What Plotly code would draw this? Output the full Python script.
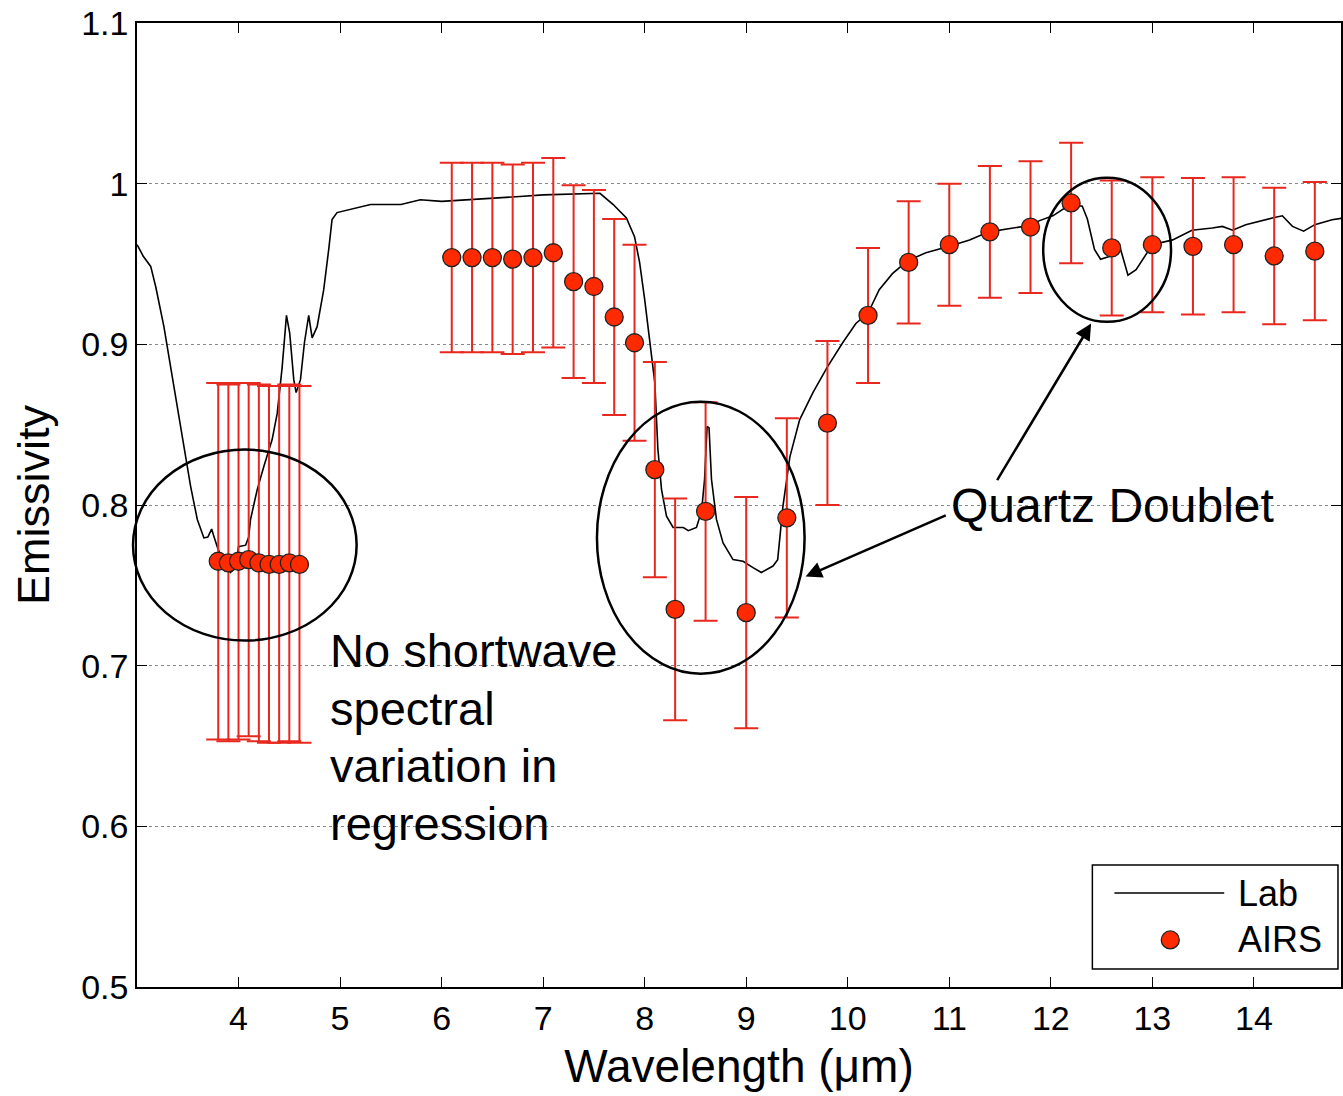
import plotly.graph_objects as go

# ---- Data ----
lab_wl = [3.00, 3.01, 3.06, 3.135, 3.184, 3.265, 3.331, 3.397, 3.462, 3.528, 3.594, 3.659, 3.698,
          3.735, 3.757, 3.79, 3.85, 3.92, 3.97, 4.00, 4.07, 4.10, 4.118, 4.184, 4.249, 4.288, 4.331,
          4.381, 4.43, 4.472, 4.504, 4.544, 4.567, 4.61, 4.649, 4.691, 4.725, 4.774, 4.839, 4.888,
          4.921, 4.97, 5.10, 5.30, 5.60, 5.79, 6.00, 6.30, 6.77, 7.00, 7.43, 7.56, 7.69, 7.82, 7.90,
          7.95, 8.00, 8.05, 8.10, 8.13, 8.166, 8.215, 8.28, 8.38, 8.43, 8.51, 8.56, 8.59, 8.615,
          8.634, 8.658, 8.707, 8.772, 8.87, 8.969, 9.067, 9.149, 9.264, 9.31, 9.362, 9.43, 9.526,
          9.657, 9.80, 9.95, 10.08, 10.2, 10.31, 10.44, 10.59, 10.77, 11.0, 11.2, 11.39, 11.62,
          11.79, 11.89, 12.02, 12.19, 12.31, 12.36, 12.43, 12.49, 12.59, 12.67, 12.76, 12.84, 13.0,
          13.2, 13.39, 13.59, 13.69, 13.79, 13.92, 14.18, 14.28, 14.38, 14.49, 14.6, 14.77, 14.88]
lab_em = [0.962, 0.961, 0.955, 0.9485, 0.936, 0.911, 0.886, 0.861, 0.8365, 0.8116, 0.791, 0.7795,
          0.780, 0.785, 0.7806, 0.774, 0.765, 0.758, 0.761, 0.774, 0.775, 0.780, 0.791, 0.8096,
          0.824, 0.8324, 0.8407, 0.857, 0.886, 0.918, 0.907, 0.878, 0.870, 0.878, 0.901, 0.918,
          0.904, 0.911, 0.934, 0.959, 0.9776, 0.982, 0.984, 0.987, 0.987, 0.990, 0.989, 0.990,
          0.992, 0.993, 0.994, 0.994, 0.987, 0.9786, 0.967, 0.951, 0.928, 0.903, 0.876, 0.835,
          0.8096, 0.793, 0.786, 0.786, 0.784, 0.786, 0.796, 0.816, 0.849, 0.848, 0.816, 0.791,
          0.7764, 0.766, 0.765, 0.761, 0.758, 0.762, 0.766, 0.7993, 0.830, 0.853, 0.870, 0.886,
          0.901, 0.913, 0.9195, 0.934, 0.944, 0.952, 0.957, 0.961, 0.965, 0.970, 0.9724, 0.974,
          0.977, 0.980, 0.987, 0.986, 0.978, 0.959, 0.953, 0.955, 0.963, 0.943, 0.9465, 0.962,
          0.965, 0.971, 0.9724, 0.9734, 0.971, 0.9745, 0.9786, 0.980, 0.9734, 0.9704, 0.9745,
          0.9776, 0.9786]

airs_wl = [3.8, 3.9, 4.0, 4.1, 4.2, 4.3, 4.4, 4.5, 4.6,
           6.1, 6.3, 6.5, 6.7, 6.9, 7.1, 7.3, 7.5, 7.7, 7.9, 8.1, 8.3, 8.6, 9.0, 9.4, 9.8,
           10.2, 10.6, 11.0, 11.4, 11.8, 12.2, 12.6, 13.0, 13.4, 13.8, 14.2, 14.6]
airs_em = [0.765, 0.764, 0.765, 0.766, 0.764, 0.763, 0.763, 0.764, 0.763,
           0.954, 0.954, 0.954, 0.953, 0.954, 0.957, 0.939, 0.936, 0.917, 0.901, 0.822, 0.735,
           0.796, 0.733, 0.792, 0.851, 0.918, 0.951, 0.962, 0.970, 0.973, 0.988, 0.960, 0.962,
           0.961, 0.962, 0.955, 0.958]
airs_err = [0.111, 0.111, 0.111, 0.110, 0.111, 0.111, 0.111, 0.111, 0.111,
            0.059, 0.059, 0.059, 0.059, 0.059, 0.059, 0.060, 0.060, 0.061, 0.061, 0.067, 0.069,
            0.068, 0.072, 0.062, 0.051, 0.042, 0.038, 0.038, 0.041, 0.041, 0.0375, 0.042, 0.042,
            0.0425, 0.042, 0.0425, 0.043]

x_ticks = [4, 5, 6, 7, 8, 9, 10, 11, 12, 13, 14]
y_ticks = [0.5, 0.6, 0.7, 0.8, 0.9, 1.0, 1.1]
y_ticktext = ["0.5", "0.6", "0.7", "0.8", "0.9", "1", "1.1"]

FONT = "Liberation Sans, Arial, Helvetica, sans-serif"
RED_FILL = "#ff2a00"
RED_ERR = "#e8281e"

fig = go.Figure()
fig.add_trace(go.Scatter(x=lab_wl, y=lab_em, mode="lines", name="Lab",
                         line=dict(color="black", width=1.6), showlegend=False))
fig.add_trace(go.Scatter(x=airs_wl, y=airs_em, mode="markers", name="AIRS",
                         marker=dict(size=18, color=RED_FILL, line=dict(color="#222222", width=1.3)),
                         error_y=dict(type="data", array=airs_err, visible=True,
                                      color=RED_ERR, thickness=2, width=12),
                         showlegend=False))

# Ellipses
ell = dict(type="circle", line=dict(color="black", width=2.5), fillcolor="rgba(0,0,0,0)", layer="above")
fig.add_shape(xref="paper", yref="y", x0=-0.0033, x1=(357 - 137) / 1206, y0=0.7156, y1=0.8345, **ell)
fig.add_shape(xref="x", yref="y", x0=7.53, x1=9.575, y0=0.695, y1=0.8643, **ell)
fig.add_shape(xref="x", yref="y", x0=11.925, x1=13.184, y0=0.914, y1=1.0037, **ell)

# Text annotations
txt_font = dict(family=FONT, size=47, color="black")
for t, yy in zip(["No shortwave", "spectral", "variation in", "regression"],
                 [0.7094, 0.6736, 0.6378, 0.6020]):
    fig.add_annotation(x=4.88, y=yy, xref="x", yref="y", text=t, showarrow=False,
                       xanchor="left", yanchor="middle", font=txt_font)
fig.add_annotation(x=11.0, y=0.800, xref="x", yref="y", text="Quartz Doublet", showarrow=False,
                   xanchor="left", yanchor="middle", font=dict(family=FONT, size=48, color="black"))

# Arrows
arr = dict(text="", showarrow=True, arrowhead=2, arrowsize=1.3, arrowwidth=2.5, arrowcolor="black",
           xref="x", yref="y", axref="x", ayref="y", standoff=0, startstandoff=0)
fig.add_annotation(x=9.585, y=0.7555, ax=10.98, ay=0.794, **arr)
fig.add_annotation(x=12.397, y=0.9129, ax=11.463, ay=0.8146, **arr)

# Manual legend box
fig.add_shape(type="rect", xref="paper", yref="paper", x0=0.7935, x1=0.9975, y0=0.0187, y1=0.1266,
              line=dict(color="black", width=1.5), fillcolor="white", layer="above")
fig.add_shape(type="line", xref="paper", yref="paper", x0=0.8118, x1=0.9030, y0=0.0975, y1=0.0975,
              line=dict(color="black", width=1.5), layer="above")
fig.add_shape(type="circle", xref="paper", yref="paper", xsizemode="pixel", ysizemode="pixel",
              xanchor=0.8582, yanchor=0.0488, x0=-9, x1=9, y0=-9, y1=9,
              line=dict(color="#222222", width=1.3), fillcolor=RED_FILL, layer="above")
leg_font = dict(family=FONT, size=36, color="black")
fig.add_annotation(x=(1238 - 137) / 1206, y=0.0975, xref="paper", yref="paper", text="Lab",
                   showarrow=False, xanchor="left", yanchor="middle", font=leg_font)
fig.add_annotation(x=(1238 - 137) / 1206, y=0.0488, xref="paper", yref="paper", text="AIRS",
                   showarrow=False, xanchor="left", yanchor="middle", font=leg_font)

fig.update_layout(
    width=1343, height=1096,
    margin=dict(l=137, r=0, t=23, b=109),
    paper_bgcolor="white", plot_bgcolor="white",
    font=dict(family=FONT, color="black"),
    showlegend=False,
)
fig.update_xaxes(range=[3, 14.858], tickvals=x_ticks, ticks="inside", ticklen=10, tickwidth=1.2,
                 tickcolor="black", showline=True, linecolor="black", linewidth=1.5, mirror="ticks",
                 showgrid=False, zeroline=False, tickfont=dict(size=34),
                 title=dict(text="Wavelength (μm)", font=dict(size=46), standoff=14))
fig.update_yaxes(range=[0.5, 1.1], tickvals=y_ticks, ticktext=y_ticktext, ticks="inside", ticklen=10,
                 tickwidth=1.2, tickcolor="black", showline=True, linecolor="black", linewidth=1.5,
                 mirror="ticks", showgrid=True, gridcolor="#888888", gridwidth=1, griddash="dot",
                 zeroline=False, tickfont=dict(size=34),
                 title=dict(text="Emissivity", font=dict(size=45), standoff=17))

fig.write_html("out.html")
